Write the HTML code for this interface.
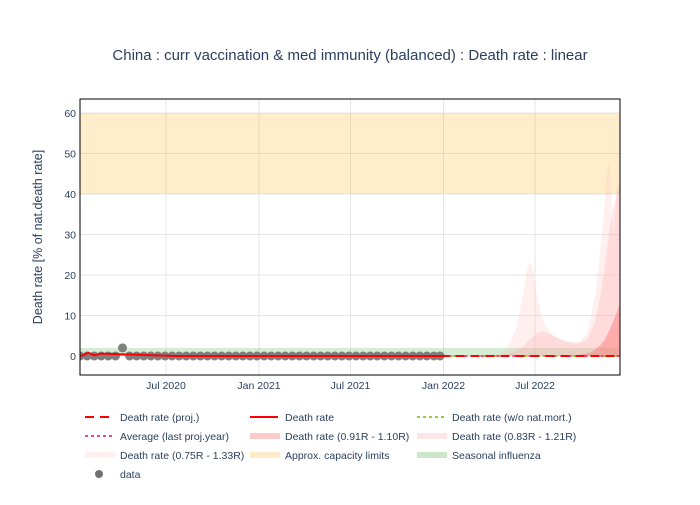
<!DOCTYPE html>
<html><head><meta charset="utf-8"><style>
body{margin:0;background:#fff;font-family:"Liberation Sans",sans-serif;}
svg text{font-family:"Liberation Sans",sans-serif;fill:#2a3f5f;}
</style></head><body>
<svg id="chart" width="700" height="500">
<text x="350" y="60" text-anchor="middle" font-size="15">China : curr vaccination &amp; med immunity (balanced) : Death rate : linear</text>
<g id="grid"></g>
<g id="marks"></g>
<rect x="80" y="99" width="540" height="276" fill="none" stroke="#000" stroke-width="1"/>
<g id="axes"></g>
<text transform="translate(42,237) rotate(-90)" text-anchor="middle" font-size="12.5">Death rate [% of nat.death rate]</text>
<g id="legend"></g>
</svg>
<script>
// x values are days since 2020-01-01
const yTicks=[0,10,20,30,40,50,60];
const xTickDays=[182,366,547,731,912];
const xTickLabels=["Jul 2020","Jan 2021","Jul 2021","Jan 2022","Jul 2022"];
const band75Days=[700,800,843,860,875,888,896,902,908,916,925,935,948,961,980,1001,1016,1031,1042,1050,1055,1058,1060,1062,1065,1068,1072,1076,1080];
const band75High=[0,0.1,0.6,2.5,7,15,21,23.5,21,15,10,7,5,4,3.5,3.5,6,15,27,38,45,48,47,40,32,30,38,45,40];
const band83Days=[760,850,870,890,905,915,925,940,955,975,995,1015,1030,1040,1050,1058,1066,1074,1080];
const band83High=[0,0.3,1,2.5,4.5,5.6,6,5.5,4.6,3.5,3,4,8,14,22,30,36,40,42];
const band91Days=[950,990,1010,1025,1040,1050,1060,1070,1080];
const band91High=[0,0.2,0.5,1,2.5,4,6.5,9.5,13];
const capacityRange=[40,60];
const fluRange=[0,2];
const actualDays=[12,20,28,40,55,200,400,600,725];
const actualVals=[0,0.3,0.8,0.2,0.6,0,0,0,0];
const projDays=[725,1080];
const projVals=[0,0];
const dataDays=[12,26,40,54,68,82,96,110,124,138,152,166,180,194,208,222,236,250,264,278,292,306,320,334,348,362,376,390,404,418,432,446,460,474,488,502,516,530,544,558,572,586,600,614,628,642,656,670,684,698,712,724];
const dataVals=[0,0,0,0,0,0,2,0,0,0,0,0,0,0,0,0,0,0,0,0,0,0,0,0,0,0,0,0,0,0,0,0,0,0,0,0,0,0,0,0,0,0,0,0,0,0,0,0,0,0,0,0];

const X=d=>166+(d-182)*0.5055;
const Y=v=>356-4.05*v;
const NS="http://www.w3.org/2000/svg";
function mk(tag,attrs,parent){const e=document.createElementNS(NS,tag);for(const k in attrs)e.setAttribute(k,attrs[k]);parent.appendChild(e);return e;}
const grid=document.getElementById('grid'),marks=document.getElementById('marks'),axes=document.getElementById('axes');
yTicks.forEach(v=>{
  const l=mk('line',{x1:80,x2:620,y1:Y(v),y2:Y(v),stroke:'#e5e5e5','stroke-width':1},grid);
  
  
  const t=mk('text',{x:76,y:Y(v)+4,'text-anchor':'end','font-size':10.5},axes);
  t.textContent=v;
  
  
});
xTickDays.forEach((d,i)=>{
  const l=mk('line',{x1:X(d),x2:X(d),y1:99,y2:375,stroke:'#e5e5e5','stroke-width':1},grid);
  
  
  const t=mk('text',{x:X(d),y:389,'text-anchor':'middle','font-size':10.5},axes);
  t.textContent=xTickLabels[i];
  
  
});
const clip=mk('clipPath',{id:'pc'},document.getElementById('chart'));
mk('rect',{x:80,y:99,width:540,height:276},clip);
marks.setAttribute('clip-path','url(#pc)');
const cap=mk('rect',{x:80,y:Y(capacityRange[1]),width:540,height:Y(capacityRange[0])-Y(capacityRange[1]),fill:'rgba(255,165,0,0.2)'},marks);


const flu=mk('rect',{x:80,y:Y(fluRange[1]),width:540,height:Y(fluRange[0])-Y(fluRange[1]),fill:'rgba(44,160,44,0.2)'},marks);


function band(days,vals,fill,name){
  let d='M'+X(days[0])+','+Y(0);
  days.forEach((dd,i)=>d+=' L'+X(dd)+','+Y(vals[i]));
  d+=' L'+X(days[days.length-1])+','+Y(0)+' Z';
  const p=mk('path',{d:d,fill:fill},marks);
  
  
}
band(band75Days,band75High,'rgba(255,180,180,0.22)','band-075-133');
band(band83Days,band83High,'rgba(255,170,170,0.28)','band-083-121');
band(band91Days,band91High,'rgba(255,100,100,0.4)','band-091-110');
dataDays.forEach((d,i)=>{
  const c=mk('circle',{cx:X(d),cy:Y(dataVals[i]),r:4.5,fill:'#7f7f7f'},marks);
  
  
});
function line(days,vals,attrs,name){
  const p=mk('polyline',Object.assign({points:days.map((d,i)=>X(d)+','+Y(vals[i])).join(' '),fill:'none'},attrs),marks);
  
  
}
line(actualDays,actualVals,{stroke:'#f00','stroke-width':2},'death-rate-line');
line(projDays,projVals,{stroke:'#9acd32','stroke-width':2,'stroke-dasharray':'3,3'},'death-rate-wo-natmort-line');
line(projDays,projVals,{stroke:'#ff4477','stroke-width':2,'stroke-dasharray':'3,5'},'average-line');
line(projDays,projVals,{stroke:'#f00','stroke-width':2,'stroke-dasharray':'9,6'},'death-rate-proj-line');

const legend=document.getElementById('legend');
const items=[
 [85,417,'dash','Death rate (proj.)','legend-proj'],[250,417,'solid','Death rate','legend-death-rate'],[417,417,'green','Death rate (w/o nat.mort.)','legend-wo-natmort'],
 [85,436,'pink','Average (last proj.year)','legend-average'],[250,436,'b91','Death rate (0.91R - 1.10R)','legend-band-091'],[417,436,'b83','Death rate (0.83R - 1.21R)','legend-band-083'],
 [85,455,'b75','Death rate (0.75R - 1.33R)','legend-band-075'],[250,455,'cap','Approx. capacity limits','legend-capacity'],[417,455,'flu','Seasonal influenza','legend-influenza'],
 [85,474,'dot','data','legend-data']];
const fills={b91:'rgba(255,100,100,0.35)',b83:'rgba(255,170,170,0.3)',b75:'rgba(255,180,180,0.2)',cap:'rgba(255,165,0,0.22)',flu:'rgba(44,160,44,0.25)'};
items.forEach(it=>{
  const [x,y,k,label,name]=it;
  const g=mk('g',{},legend);
  
  
  if(k==='dash')mk('line',{x1:x,x2:x+28,y1:y,y2:y,stroke:'#f00','stroke-width':2,'stroke-dasharray':'9,6'},g);
  else if(k==='solid')mk('line',{x1:x,x2:x+28,y1:y,y2:y,stroke:'#f00','stroke-width':2},g);
  else if(k==='green')mk('line',{x1:x,x2:x+28,y1:y,y2:y,stroke:'#9acd32','stroke-width':2,'stroke-dasharray':'3,3'},g);
  else if(k==='pink')mk('line',{x1:x,x2:x+28,y1:y,y2:y,stroke:'#ff4477','stroke-width':2,'stroke-dasharray':'3,3'},g);
  else if(k==='dot')mk('circle',{cx:x+14,cy:y,r:4,fill:'#707070'},g);
  else mk('rect',{x:x,y:y-3,width:30,height:6,fill:fills[k]},g);
  const t=mk('text',{x:x+35,y:y+4,'font-size':10.5},g);
  t.textContent=label;
});
</script>
</body></html>
